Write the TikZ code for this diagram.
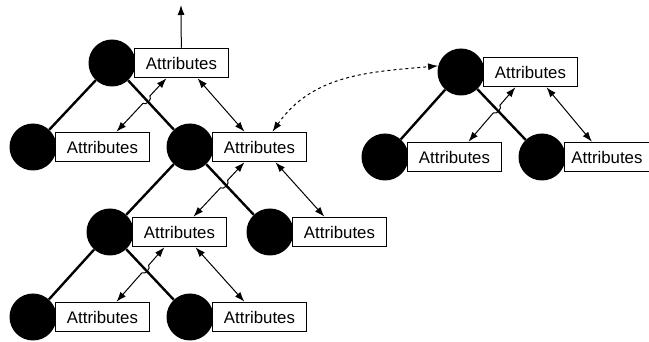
\documentclass[tikz,border=0pt]{standalone}
\usepackage{fontspec}
\setmainfont{Liberation Sans}
\usetikzlibrary{positioning,arrows.meta,backgrounds,calc}

\tikzset{
    dot/.style={circle, fill=black, minimum size=47pt, inner sep=0pt},
    attr/.style={draw, line width=1.5pt, fill=white, minimum width=94pt, minimum height=29pt,
        inner sep=0pt, font=\fontsize{16.8}{20}\selectfont},
    branch/.style={line width=2.4pt},
    link/.style={line width=1pt, {Latex[length=10pt,width=7pt]}-{Latex[length=10pt,width=7pt]}},
}

\begin{document}
\begin{tikzpicture}[x=1pt, y=1pt]
    \useasboundingbox (0,0) rectangle (649,-342);
    \foreach \n/\x/\y in {0/112/-63, 1/33/-147, 2/190/-147, 3/110/-232, 4/270/-232, 5/33/-317, 6/190/-317}{
        \node[dot] (n\n) at (\x,\y) {};
        \node[attr, right=-2pt of n\n] (a\n) {Attributes};
    }
    \foreach \n/\x/\y in {0/461/-72, 1/385/-157, 2/542/-157}{
        \node[dot] (m\n) at (\x,\y) {};
    }
    \node[attr, right=-2pt of m0] (b0) {Attributes};
    \node[attr, right=-2pt of m1] (b1) {Attributes};
    \node[attr, right=-2pt of m2, minimum width=85pt] (b2) {Attributes};
    \begin{scope}[on background layer]
        \foreach \p/\c in {0/1, 0/2, 2/3, 2/4, 3/5, 3/6}
            \draw[branch] (n\p) -- (n\c);
        \foreach \p/\c in {0/1, 0/2}
            \draw[branch] (m\p) -- (m\c);
    \end{scope}
    \foreach \t/\p/\l/\r in {a/0/1/2, a/2/3/4, a/3/5/6, b/0/1/2}{
        \coordinate (s) at ([xshift=-15pt]\t\p.south);
        \coordinate (e) at ([xshift=14pt]\t\l.north);
        \draw[link] (s) -- ($(s)!0.33!(e)$) to[bend left=80] ($(s)!0.47!(e)$) -- (e);
        \draw[link] ([xshift=16pt]\t\p.south) -- ([xshift=-15pt]\t\r.north);
    }
    \coordinate (top) at (181,-5);
    \draw[line width=1pt, -{Latex[length=10pt,width=7pt]}] (a0) -- (top);
    \draw[line width=1pt, dashed, {Latex[length=10pt,width=7pt]}-{Latex[length=10pt,width=7pt]}]
        ([xshift=13pt]a2.north) to[out=55, in=185] (m0.165);
\end{tikzpicture}
\end{document}
